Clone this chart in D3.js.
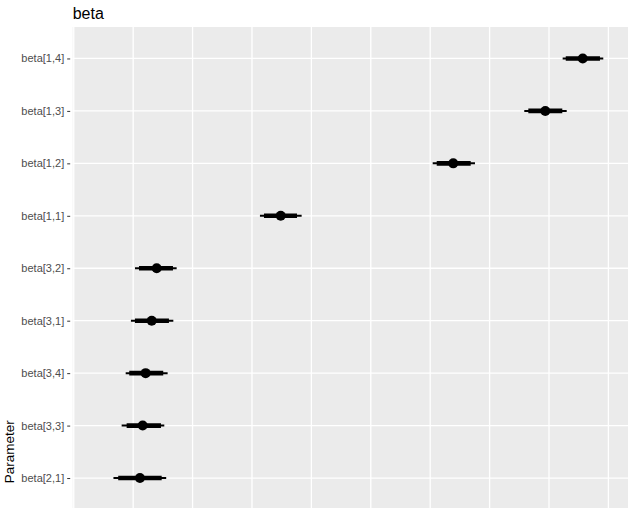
<!DOCTYPE html>
<html>
<head>
<meta charset="utf-8">
<script src="https://cdn.jsdelivr.net/npm/d3@7"></script>
<style>
  html, body { margin: 0; padding: 0; background: #fff; }
  svg { display: block; }
</style>
</head>
<body>
<svg id="chart" width="632" height="508"></svg>
<script>
// ---- data ----
const parameters = ["beta[1,4]", "beta[1,3]", "beta[1,2]", "beta[1,1]", "beta[3,2]", "beta[3,1]", "beta[3,4]", "beta[3,3]", "beta[2,1]"];
const medians    = [3.784, 3.469, 2.694, 1.242, 0.198, 0.156, 0.105, 0.080, 0.057];
const innerLow   = [3.641, 3.326, 2.555, 1.101, 0.049, 0.015, -0.033, -0.055, -0.126];
const innerHigh  = [3.929, 3.612, 2.841, 1.379, 0.335, 0.301, 0.253, 0.234, 0.240];
const outerLow   = [3.615, 3.292, 2.521, 1.067, 0.015, -0.019, -0.063, -0.097, -0.166];
const outerHigh  = [3.957, 3.649, 2.877, 1.418, 0.366, 0.338, 0.290, 0.262, 0.278];
const xGridValues = [-0.5, 0, 0.5, 1, 1.5, 2, 2.5, 3, 3.5, 4];
const xDomain = [-0.509, 4.165];
const titleText = "beta";
const yTitle = "Parameter";

// ---- layout ----
const svg = d3.select("#chart");
const panel = { left: 72.7, right: 628, top: 27, bottom: 509.5 };

const x = d3.scaleLinear().domain(xDomain).range([panel.left, panel.right]);
const y = d3.scalePoint().domain(parameters).range([panel.top, panel.bottom]).padding(0.6);

const rows = parameters.map((p, i) => ({
  p, m: medians[i], il: innerLow[i], ih: innerHigh[i], ol: outerLow[i], oh: outerHigh[i]
}));

// panel background
svg.append("rect")
  .attr("x", panel.left).attr("y", panel.top)
  .attr("width", panel.right - panel.left).attr("height", panel.bottom - panel.top)
  .attr("fill", "#EBEBEB");

// grid lines
svg.append("g").selectAll("line").data(xGridValues).join("line")
  .attr("x1", d => x(d)).attr("x2", d => x(d))
  .attr("y1", panel.top).attr("y2", panel.bottom)
  .attr("stroke", "#fff").attr("stroke-width", 1.3);

svg.append("g").selectAll("line").data(parameters).join("line")
  .attr("x1", panel.left).attr("x2", panel.right)
  .attr("y1", d => y(d)).attr("y2", d => y(d))
  .attr("stroke", "#fff").attr("stroke-width", 1.3);

// y axis (ticks + labels)
const yAxis = d3.axisLeft(y).tickSize(3).tickPadding(3);
const gy = svg.append("g").attr("transform", `translate(${panel.left - 2.5},0)`).call(yAxis);
gy.select(".domain").remove();
gy.selectAll(".tick line").attr("stroke", "#333").attr("stroke-width", 1);
gy.selectAll(".tick text")
  .attr("fill", "#4D4D4D")
  .style("font-family", "'Liberation Sans', Arial, Helvetica, sans-serif")
  .style("font-size", "11px");

// intervals
const marks = svg.append("g");
marks.selectAll("line.outer").data(rows).join("line").attr("class", "outer")
  .attr("x1", d => x(d.ol)).attr("x2", d => x(d.oh))
  .attr("y1", d => y(d.p)).attr("y2", d => y(d.p))
  .attr("stroke", "#000").attr("stroke-width", 2);
marks.selectAll("line.inner").data(rows).join("line").attr("class", "inner")
  .attr("x1", d => x(d.il)).attr("x2", d => x(d.ih))
  .attr("y1", d => y(d.p)).attr("y2", d => y(d.p))
  .attr("stroke", "#000").attr("stroke-width", 4.6);
marks.selectAll("circle").data(rows).join("circle")
  .attr("cx", d => x(d.m)).attr("cy", d => y(d.p))
  .attr("r", 5).attr("fill", "#000");

// title
svg.append("text")
  .attr("x", panel.left).attr("y", 18.5)
  .attr("fill", "#000")
  .style("font-family", "'Liberation Sans', Arial, Helvetica, sans-serif")
  .style("font-size", "16px")
  .text(titleText);

// y title
svg.append("text")
  .attr("transform", `translate(13.5,451.7) rotate(-90)`)
  .attr("text-anchor", "middle")
  .attr("fill", "#000")
  .style("font-family", "'Liberation Sans', Arial, Helvetica, sans-serif")
  .style("font-size", "13.5px")
  .text(yTitle);
</script>
</body>
</html>
